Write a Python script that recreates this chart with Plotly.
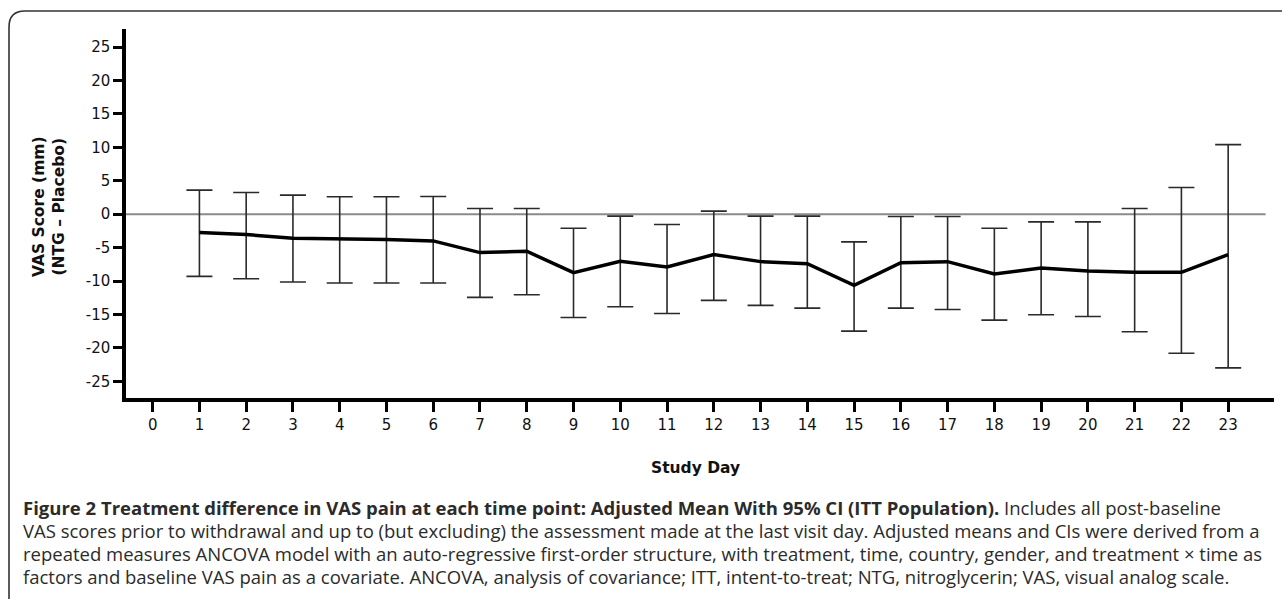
import plotly.graph_objects as go

days = list(range(1, 24))
mean_diff = [-2.75, -3.05, -3.6, -3.65, -3.8, -4.0, -5.75, -5.55, -8.75, -7.05, -7.9, -6.05,
             -7.1, -7.4, -10.65, -7.25, -7.1, -8.95, -8.05, -8.5, -8.7, -8.7, -6.05]
ci_upper = [3.6, 3.25, 2.85, 2.6, 2.6, 2.65, 0.85, 0.85, -2.1, -0.3, -1.55, 0.45,
            -0.3, -0.3, -4.15, -0.35, -0.35, -2.1, -1.15, -1.15, 0.85, 4.0, 10.4]
ci_lower = [-9.3, -9.65, -10.15, -10.3, -10.3, -10.3, -12.45, -12.05, -15.45, -13.85, -14.85, -12.9,
            -13.65, -14.05, -17.5, -14.05, -14.25, -15.85, -15.05, -15.3, -17.6, -20.8, -23.0]
x_ticks = list(range(0, 24))
y_ticks = [25, 20, 15, 10, 5, 0, -5, -10, -15, -20, -25]

err_plus = [u - m for u, m in zip(ci_upper, mean_diff)]
err_minus = [m - l for m, l in zip(mean_diff, ci_lower)]

W, H = 1282, 599
L, R, T, B = 126, 8, 29, 201
PW, PH = W - L - R, H - T - B
XR = [-0.57, 23.98]
YR = [-27.5, 27.7]


def px(x):
    return (x - L) / PW


def py(y):
    return (H - B - y) / PH


fig = go.Figure()
fig.add_trace(go.Scatter(
    x=days, y=mean_diff, mode="lines",
    line=dict(color="black", width=3.5),
    error_y=dict(type="data", symmetric=False, array=err_plus, arrayminus=err_minus,
                 color="#2a2a2a", thickness=1.6, width=13),
    showlegend=False, hoverinfo="skip",
))

# zero reference line
fig.add_shape(type="line", xref="x", yref="y", x0=XR[0], x1=23.8, y0=0, y1=0,
              line=dict(color="#8a8a8a", width=2), layer="below")

# rounded frame
frame = (f"M {px(9)},{py(599)} L {px(9)},{py(27)} "
         f"Q {px(9)},{py(11)} {px(25)},{py(11)} L {px(1290)},{py(11)}")
fig.add_shape(type="path", xref="paper", yref="paper", path=frame,
              line=dict(color="#333333", width=1.6))

tick_font = dict(family="DejaVu Sans", size=15, color="#111111")

fig.update_xaxes(range=XR, tickvals=x_ticks, ticktext=[str(t) for t in x_ticks],
                 showgrid=False, zeroline=False, showline=True, linecolor="black", linewidth=3.5,
                 ticks="outside", ticklen=10, tickwidth=2.5, tickcolor="black",
                 tickfont=tick_font, ticklabelstandoff=0)
fig.update_yaxes(range=YR, tickvals=y_ticks, ticktext=[str(t) for t in y_ticks],
                 showgrid=False, zeroline=False, showline=True, linecolor="black", linewidth=3.5,
                 ticks="outside", ticklen=9, tickwidth=2.5, tickcolor="black",
                 tickfont=tick_font)

# axis titles
fig.add_annotation(xref="paper", yref="paper", x=px(49), y=py(207), textangle=-90,
                   text="<b>VAS Score (mm)</b><br><b>(NTG \u2013 Placebo)</b>", showarrow=False,
                   font=dict(family="DejaVu Sans", size=15.5, color="#111111"),
                   xanchor="center", yanchor="middle")
fig.add_annotation(xref="paper", yref="paper", x=px(695), y=py(468),
                   text="<b>Study Day</b>", showarrow=False,
                   font=dict(family="DejaVu Sans", size=15.5, color="#111111"),
                   xanchor="center", yanchor="middle")

caption_lines = [
    "<b>Figure 2 Treatment difference in VAS pain at each time point: Adjusted Mean With 95% CI (ITT Population).</b> Includes all post-baseline",
    "VAS scores prior to withdrawal and up to (but excluding) the assessment made at the last visit day. Adjusted means and CIs were derived from a",
    "repeated measures ANCOVA model with an auto-regressive first-order structure, with treatment, time, country, gender, and treatment \u00d7 time as",
    "factors and baseline VAS pain as a covariate. ANCOVA, analysis of covariance; ITT, intent-to-treat; NTG, nitroglycerin; VAS, visual analog scale.",
]
caption_y = [507, 530, 553, 576]
for line, yy in zip(caption_lines, caption_y):
    fig.add_annotation(xref="paper", yref="paper", x=px(21), y=py(yy), text=line,
                       showarrow=False, xanchor="left", yanchor="middle",
                       font=dict(family="Open Sans", size=18.5, color="#2b2b2b"))

fig.update_layout(width=W, height=H, margin=dict(l=L, r=R, t=T, b=B),
                  paper_bgcolor="white", plot_bgcolor="white")

fig.write_html("out.html", config={"displayModeBar": False},
               post_script="document.documentElement.style.margin='0';"
                           "document.body.style.margin='0';"
                           "document.body.style.overflow='hidden';")
